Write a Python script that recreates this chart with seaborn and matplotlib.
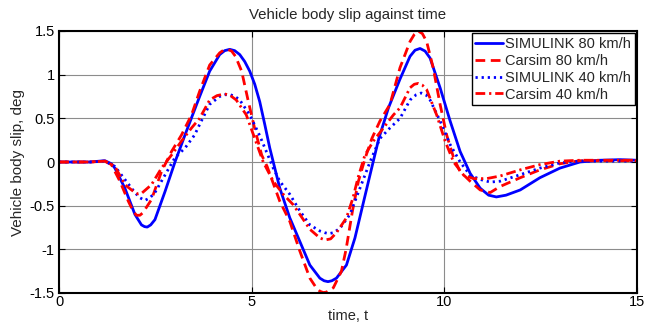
import matplotlib
matplotlib.use("Agg")
import matplotlib.pyplot as plt
import seaborn as sns
import pandas as pd

# ---------------- data ----------------
t_sim80 = [0, 0.8, 1.19, 1.36, 1.45, 1.71, 1.97, 2.14, 2.22, 2.29, 2.38, 2.49, 2.75, 3.01, 3.27, 3.52, 3.65,
           3.91, 4.17, 4.3, 4.43, 4.56, 4.69, 4.82, 4.95, 5.08, 5.21, 5.34, 5.47, 5.6, 5.73, 5.99, 6.25, 6.51,
           6.77, 6.88, 6.98, 7.08, 7.2, 7.46, 7.68, 7.88, 8.07, 8.3, 8.55, 8.85, 9.11, 9.24, 9.37, 9.5,
           9.63, 9.89, 10.15, 10.41, 10.67, 10.93, 11.15, 11.35, 11.6, 11.97, 12.48, 13.0, 13.52, 14.04,
           14.56, 15.0]
v_sim80 = [0, 0.0, 0.015, -0.02, -0.07, -0.30, -0.60, -0.72, -0.74, -0.745, -0.72, -0.66, -0.34, 0.0, 0.31,
           0.60, 0.75, 1.04, 1.23, 1.275, 1.29, 1.275, 1.23, 1.15, 1.04, 0.89, 0.69, 0.43, 0.16, -0.07,
           -0.30, -0.64, -0.91, -1.18, -1.33, -1.36, -1.37, -1.36, -1.33, -1.18, -0.87, -0.50, -0.15, 0.27,
           0.62, 0.95, 1.21, 1.28, 1.30, 1.27, 1.19, 0.85, 0.47, 0.12, -0.13, -0.30, -0.38, -0.40, -0.38,
           -0.32, -0.18, -0.07, 0.0, 0.02, 0.027, 0.02]

t_car80 = [0, 0.8, 1.19, 1.36, 1.58, 1.80, 1.92, 2.01, 2.1, 2.18, 2.40, 2.66, 2.92, 3.18, 3.44, 3.65, 3.91,
           4.17, 4.27, 4.37, 4.48, 4.58, 4.74, 4.91, 5.08, 5.26, 5.4, 5.73, 5.99, 6.25, 6.51, 6.66, 6.77,
           6.86, 6.94, 7.12, 7.33, 7.45, 7.62, 7.77, 7.95, 8.12, 8.33, 8.59, 8.85, 9.11, 9.22, 9.32, 9.43,
           9.54, 9.71, 9.89, 10.06, 10.24, 10.41, 10.67, 10.93, 11.19, 11.45, 11.97, 12.48, 13.0, 13.52, 15.0]
v_car80 = [0, 0.0, 0.01, -0.03, -0.22, -0.45, -0.56, -0.61, -0.61, -0.58, -0.43, -0.11, 0.12, 0.31, 0.54,
           0.81, 1.11, 1.25, 1.28, 1.29, 1.27, 1.21, 1.04, 0.70, 0.38, 0.08, -0.05, -0.45, -0.68, -1.02,
           -1.33, -1.43, -1.48, -1.495, -1.49, -1.44, -1.25, -1.0, -0.55, -0.22, 0.05, 0.27, 0.47, 0.66,
           1.08, 1.38, 1.46, 1.50, 1.47, 1.38, 1.08, 0.66, 0.31, 0.05, -0.11, -0.22, -0.32, -0.35, -0.28,
           -0.18, -0.09, -0.02, 0.015, 0.015]

t_sim40 = [0, 0.8, 1.19, 1.45, 1.71, 1.97, 2.1, 2.23, 2.36, 2.49, 2.75, 3.01, 3.27, 3.52, 3.65, 3.91, 4.17,
           4.3, 4.45, 4.57, 4.69, 4.95, 5.21, 5.4, 5.56, 5.73, 5.99, 6.25, 6.51, 6.77, 6.9, 7.0, 7.12,
           7.29, 7.55, 7.81, 8.07, 8.33, 8.59, 8.85, 9.11, 9.27, 9.4, 9.52, 9.63, 9.89, 10.15, 10.41,
           10.67, 10.93, 11.19, 11.45, 11.97, 12.48, 13.0, 13.52, 15.0]
v_sim40 = [0, 0.0, 0.01, -0.05, -0.20, -0.35, -0.41, -0.44, -0.41, -0.35, -0.15, 0.05, 0.16, 0.31, 0.43,
           0.66, 0.75, 0.77, 0.77, 0.75, 0.71, 0.54, 0.30, 0.10, -0.07, -0.22, -0.37, -0.56, -0.72, -0.79,
           -0.81, -0.82, -0.81, -0.76, -0.60, -0.30, 0.0, 0.27, 0.39, 0.50, 0.71, 0.77, 0.79, 0.77, 0.71,
           0.47, 0.20, 0.0, -0.15, -0.20, -0.23, -0.22, -0.145, -0.07, -0.01, 0.01, 0.01]

t_car40 = [0, 0.8, 1.19, 1.45, 1.71, 1.97, 2.05, 2.14, 2.40, 2.66, 2.92, 3.18, 3.44, 3.65, 3.91, 4.1, 4.3,
           4.45, 4.6, 4.86, 5.08, 5.3, 5.56, 5.82, 6.08, 6.25, 6.51, 6.77, 6.86, 6.94, 7.05, 7.2, 7.46,
           7.63, 7.76, 7.94, 8.16, 8.42, 8.68, 8.85, 9.11, 9.22, 9.32, 9.43, 9.54, 9.8, 10.02, 10.24,
           10.5, 10.76, 11.1, 11.45, 11.97, 12.48, 13.0, 13.52, 15.0]
v_car40 = [0, 0.0, 0.01, -0.05, -0.26, -0.35, -0.365, -0.36, -0.26, -0.07, 0.08, 0.24, 0.39, 0.50, 0.71,
           0.76, 0.78, 0.76, 0.71, 0.54, 0.27, 0.0, -0.22, -0.37, -0.49, -0.60, -0.77, -0.87, -0.885,
           -0.89, -0.88, -0.81, -0.64, -0.41, -0.18, 0.08, 0.24, 0.39, 0.54, 0.62, 0.85, 0.89, 0.90,
           0.88, 0.83, 0.54, 0.24, 0.0, -0.15, -0.19, -0.19, -0.16, -0.09, -0.03, 0.01, 0.02, 0.02]

series_labels = ["SIMULINK 80 km/h", "Carsim 80 km/h", "SIMULINK 40 km/h", "Carsim 40 km/h"]
x_ticks = [0, 5, 10, 15]
y_ticks = [-1.5, -1, -0.5, 0, 0.5, 1, 1.5]
y_tick_labels = ["-1.5", "-1", "-0.5", "0", "0.5", "1", "1.5"]

# ---------------- plotting ----------------
sns.set_theme(style="white")
plt.rcParams["font.family"] = ["Liberation Sans", "DejaVu Sans"]

fig = plt.figure(figsize=(6.52, 3.24), dpi=100)
ax = fig.add_axes([59 / 652, 1 - 293 / 324, (637 - 59) / 652, (293 - 31) / 324])

styles = [
    dict(color="#0000ff", linestyle="-"),
    dict(color="#ff0000", linestyle=(0, (3.5, 2.0))),
    dict(color="#0000ff", linestyle=(0, (0.8, 1.4))),
    dict(color="#ff0000", linestyle=(0, (3.5, 1.4, 0.8, 1.4))),
]
data = [(t_sim80, v_sim80), (t_car80, v_car80), (t_sim40, v_sim40), (t_car40, v_car40)]
for (tt, vv), lab, st in zip(data, series_labels, styles):
    df = pd.DataFrame({"t": tt, "v": vv})
    sns.lineplot(data=df, x="t", y="v", ax=ax, label=lab, linewidth=2.0,
                 estimator=None, sort=True, **st)

ax.set_xlim(0, 15)
ax.set_ylim(-1.5, 1.5)
ax.set_xticks(x_ticks)
ax.set_xticklabels([str(v) for v in x_ticks])
ax.set_yticks(y_ticks)
ax.set_yticklabels(y_tick_labels)
ax.grid(True, color="#8c8c8c", linewidth=0.8)
ax.set_axisbelow(True)
ax.tick_params(axis="both", direction="in", length=4, width=0.8, labelsize=10.5,
               top=True, right=True, bottom=True, left=True, colors="black", pad=3)
ax.tick_params(axis="x", pad=1.5)
for s in ax.spines.values():
    s.set_color("black")
    s.set_linewidth(1.5)

ax.set_title("Vehicle body slip against time", fontsize=10.8, pad=9)
ax.set_xlabel("time, t", fontsize=10.5, labelpad=0)
ax.set_ylabel("Vehicle body slip, deg", fontsize=11, labelpad=3)

leg = ax.legend(loc="upper right", fontsize=10.5, frameon=True, fancybox=False,
                handlelength=1.9, handletextpad=0.15, borderpad=0.25, labelspacing=0.2,
                borderaxespad=0.15)
leg.get_frame().set_edgecolor("black")
leg.get_frame().set_linewidth(1.0)
leg.get_frame().set_alpha(1.0)

fig.savefig("out.png", dpi=100)
